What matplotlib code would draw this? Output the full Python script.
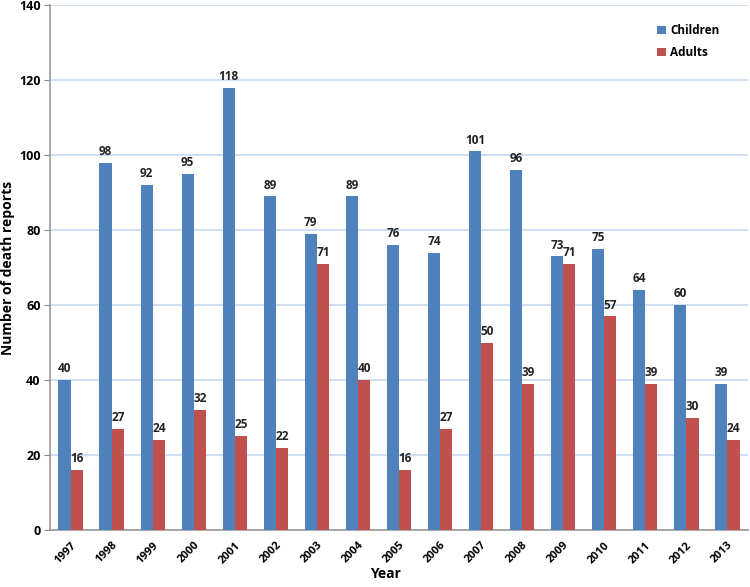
import matplotlib
matplotlib.use("Agg")
import matplotlib.pyplot as plt
import numpy as np

years = ["1997","1998","1999","2000","2001","2002","2003","2004","2005","2006","2007","2008","2009","2010","2011","2012","2013"]
children = [40, 98, 92, 95, 118, 89, 79, 89, 76, 74, 101, 96, 73, 75, 64, 60, 39]
adults = [16, 27, 24, 32, 25, 22, 71, 40, 16, 27, 50, 39, 71, 57, 39, 30, 24]

plt.rcParams['font.family'] = ['Open Sans', 'DejaVu Sans']
plt.rcParams['font.weight'] = 'bold'

fig = plt.figure(figsize=(7.5, 5.87), dpi=100)
ax = fig.add_axes([0.067, 0.097, 0.93, 0.894])

x = np.arange(len(years))
w = 0.3
blue = "#4f81bd"
red = "#c0504d"
b1 = ax.bar(x - w/2, children, w, color=blue, label="Children", zorder=3)
b2 = ax.bar(x + w/2, adults, w, color=red, label="Adults", zorder=3)

for rect, v in zip(b1, children):
    ax.text(rect.get_x() + rect.get_width()/2, v + 1.3, str(v), ha="center", va="bottom", fontsize=8.5, fontweight="bold", color="#222222")
for rect, v in zip(b2, adults):
    ax.text(rect.get_x() + rect.get_width()/2, v + 1.3, str(v), ha="center", va="bottom", fontsize=8.5, fontweight="bold", color="#222222")

ax.set_ylim(0, 140)
ax.set_xlim(-0.5, len(years) - 0.5)
ax.set_yticks(range(0, 141, 20))
ax.yaxis.grid(True, color="#c6d9f1", linewidth=1.2, zorder=0)
ax.set_axisbelow(True)
ax.set_xticks(x)
ax.set_xticklabels(years, rotation=45, ha="right", rotation_mode="anchor", fontsize=8, fontweight="bold")
ax.tick_params(axis="y", labelsize=9, length=4, color="#888888", pad=3)
ax.tick_params(axis="x", length=0, pad=7)
for lbl in ax.get_yticklabels():
    lbl.set_fontweight("bold")

for s in ["top", "right"]:
    ax.spines[s].set_visible(False)
for s in ["left", "bottom"]:
    ax.spines[s].set_color("#999999")
    ax.spines[s].set_linewidth(1.2)

ax.set_ylabel("Number of death reports", fontsize=10, fontweight="bold")
ax.yaxis.set_label_coords(-0.05, 0.5)
ax.set_xlabel("Year", fontsize=10, fontweight="bold")
ax.xaxis.set_label_coords(0.48, -0.07)

leg = ax.legend(loc="upper right", bbox_to_anchor=(0.975, 0.985), frameon=False, fontsize=8.5,
                handlelength=0.7, handleheight=0.7, handletextpad=0.4, labelspacing=0.8)
for t in leg.get_texts():
    t.set_fontweight("bold")

fig.savefig("out.png", dpi=100)
